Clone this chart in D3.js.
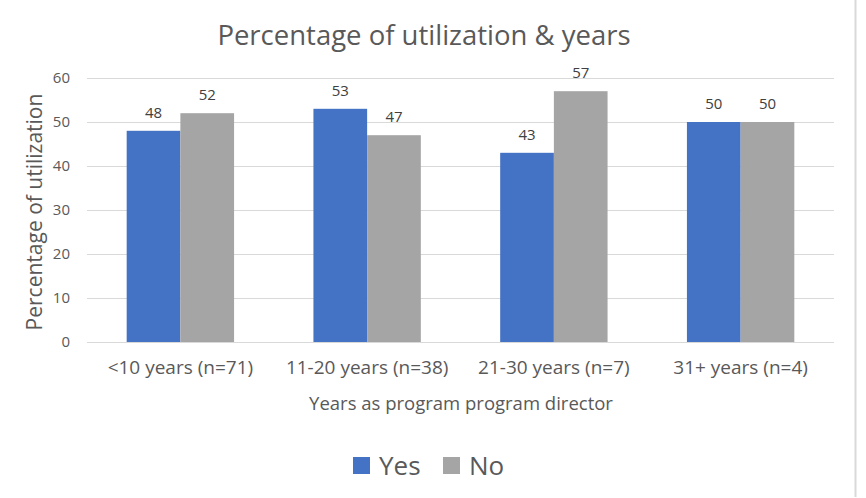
<!DOCTYPE html>
<html>
<head>
<meta charset="utf-8">
<script src="https://d3js.org/d3.v7.min.js"></script>
<style>
  body { margin: 0; background: #fff; }
  text { font-family: "Open Sans", sans-serif; }
</style>
</head>
<body>
<svg class="chart" width="866" height="498"></svg>
<script>
// chart data
var categories = ["<10 years (n=71)", "11-20 years (n=38)", "21-30 years (n=7)", "31+ years (n=4)"];
var seriesNames = ["Yes", "No"];
var yesValues = [48, 53, 43, 50];
var noValues = [52, 47, 57, 50];
var yTicks = [0, 10, 20, 30, 40, 50, 60];

var colors = {"Yes": "#4472C4", "No": "#A5A5A5"};

var data = categories.map(function(c, i) {
  return {cat: c, values: [{key: "Yes", v: yesValues[i]}, {key: "No", v: noValues[i]}]};
});

var svg = d3.select(".chart");

// plot area (note: "top" is taken by window.top, so use other names)
var plotLeft = 87, plotRight = 834, plotTop = 78, plotBottom = 342;

var x0 = d3.scaleBand()
  .domain(categories)
  .range([plotLeft, plotRight])
  .paddingInner(0.425)
  .paddingOuter(0.2125);

var x1 = d3.scaleBand()
  .domain(seriesNames)
  .range([0, x0.bandwidth()]);

var y = d3.scaleLinear()
  .domain([0, 60])
  .range([plotBottom, plotTop]);

// border on the right
svg.append("line")
  .attr("x1", 855.5).attr("x2", 855.5)
  .attr("y1", 0).attr("y2", 497)
  .attr("stroke", "#d9d9d9").attr("stroke-width", 2);

// gridlines
svg.append("g")
  .selectAll("line")
  .data(yTicks)
  .enter().append("line")
  .attr("x1", plotLeft).attr("x2", plotRight)
  .attr("y1", function(d) { return y(d) + 0.5; })
  .attr("y2", function(d) { return y(d) + 0.5; })
  .attr("stroke", "#d9d9d9").attr("stroke-width", 1);

// y axis labels
var yAxis = svg.append("g")
  .attr("transform", "translate(" + plotLeft + ",0)")
  .call(d3.axisLeft(y).tickValues(yTicks).tickSize(0).tickPadding(17));
yAxis.select(".domain").remove();
yAxis.selectAll("text")
  .attr("fill", "#595959")
  .style("font-size", "15px")
  .style("font-family", "Open Sans, sans-serif");

// x axis labels
var xAxis = svg.append("g")
  .attr("transform", "translate(0," + plotBottom + ")")
  .call(d3.axisBottom(x0).tickSize(0).tickPadding(19));
xAxis.select(".domain").remove();
xAxis.selectAll("text")
  .attr("fill", "#595959")
  .style("font-size", "19px")
  .style("font-family", "Open Sans, sans-serif");

// bars
var groups = svg.selectAll(".group")
  .data(data)
  .enter().append("g")
  .attr("class", "group")
  .attr("transform", function(d) { return "translate(" + x0(d.cat) + ",0)"; });

groups.selectAll("rect")
  .data(function(d) { return d.values; })
  .enter().append("rect")
  .attr("x", function(d) { return x1(d.key); })
  .attr("width", x1.bandwidth())
  .attr("y", function(d) { return y(d.v); })
  .attr("height", function(d) { return plotBottom - y(d.v); })
  .attr("fill", function(d) { return colors[d.key]; });

groups.selectAll(".label")
  .data(function(d) { return d.values; })
  .enter().append("text")
  .attr("class", "label")
  .attr("x", function(d) { return x1(d.key) + x1.bandwidth() / 2; })
  .attr("y", function(d) { return y(d.v) - 13; })
  .attr("text-anchor", "middle")
  .attr("fill", "#404040")
  .style("font-size", "15px")
  .text(function(d) { return d.v; });

// title
svg.append("text")
  .attr("x", 424).attr("y", 45)
  .attr("text-anchor", "middle")
  .attr("fill", "#595959")
  .style("font-size", "27.5px")
  .text("Percentage of utilization & years");

// axis titles
svg.append("text")
  .attr("transform", "translate(42," + ((plotTop + plotBottom) / 2 + 2) + ") rotate(-90)")
  .attr("text-anchor", "middle")
  .attr("fill", "#595959")
  .style("font-size", "21px")
  .text("Percentage of utilization");

svg.append("text")
  .attr("x", 461).attr("y", 410)
  .attr("text-anchor", "middle")
  .attr("fill", "#595959")
  .style("font-size", "18.5px")
  .text("Years as program program director");

// legend
var legend = svg.append("g").attr("transform", "translate(353,457)");
var legendX = [0, 90];
seriesNames.forEach(function(s, i) {
  var g = legend.append("g").attr("transform", "translate(" + legendX[i] + ",0)");
  g.append("rect").attr("width", 17).attr("height", 17).attr("fill", colors[s]);
  g.append("text").attr("x", 26).attr("y", 17.5)
    .attr("fill", "#595959")
    .style("font-size", "26px")
    .text(s);
});
</script>
</body>
</html>
